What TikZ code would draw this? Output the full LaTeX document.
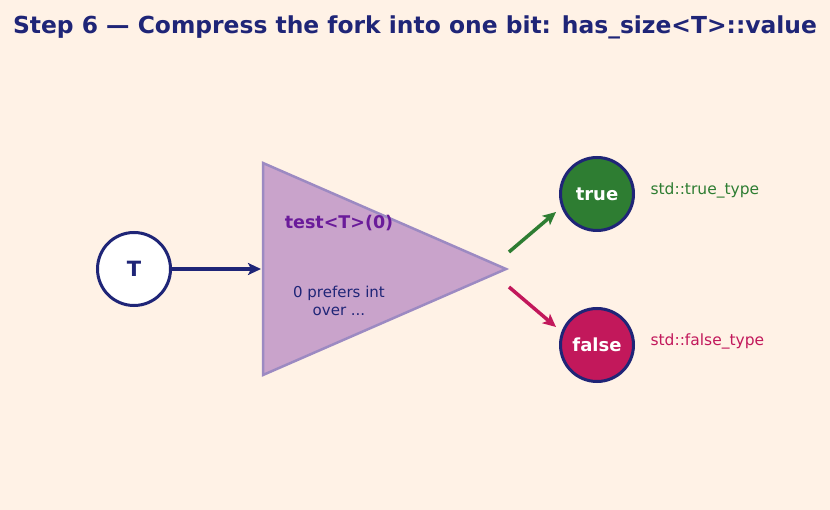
\documentclass[tikz,border=0pt]{standalone}
\usepackage{fontspec}
\setmainfont{DejaVu Sans}
\usetikzlibrary{arrows.meta}
\definecolor{bg}{HTML}{FFF2E6}
\definecolor{navy}{HTML}{1F2577}
\definecolor{tri}{HTML}{C9A3CB}
\definecolor{triedge}{HTML}{9C8AC2}
\definecolor{grn}{HTML}{2E7D32}
\definecolor{rd}{HTML}{C2185B}
\definecolor{purp}{HTML}{6A1B9A}
\tikzset{
  circ/.style={circle, draw=navy, line width=3pt, minimum size=73pt, inner sep=0pt, font=\fontsize{18}{21}\selectfont\bfseries},
  arr/.style={line width=3.5pt, -{Stealth[length=13pt,width=12pt,inset=3pt]}},
  lbl/.style={anchor=west, font=\fontsize{15.5}{18}\selectfont}
}
\begin{document}
\begin{tikzpicture}[x=1pt,y=-1pt]
\fill[bg] (0,0) rectangle (830,510);
\useasboundingbox (0,0) rectangle (830,510);
\node[text=navy, font=\fontsize{23.4}{28}\selectfont\bfseries] (title) at (415,27) {Step 6 — Compress the fork into one bit: has\_size<T>::value};
\fill[tri, draw=triedge, line width=2.5pt, line join=miter] (263,163) -- (506,269) -- (263,375) -- cycle;
\node[circ, fill=white, text=navy, font=\fontsize{21}{25}\selectfont\bfseries] (T) at (134,269) {T};
\coordinate (triL) at (261,269);
\node[circ, fill=grn, text=white] (tr) at (597,194) {true};
\node[circ, fill=rd, text=white] (fa) at (597,345) {false};
\node[text=purp, font=\fontsize{17.5}{21}\selectfont\bfseries] (test) at (339,223) {test<T>(0)};
\node[text=navy, align=center, font=\fontsize{15}{17.5}\selectfont] (pref) at (339,301) {0 prefers int\\over ...};
\coordinate (g0) at (509,252);
\coordinate (g1) at (556,212);
\coordinate (r0) at (509,287);
\coordinate (r1) at (556,327);
\draw[arr, navy] (T.east) -- (triL);
\draw[arr, grn] (g0) -- (g1);
\draw[arr, rd] (r0) -- (r1);
\node[lbl, text=grn] (tl) at (647,190) {std::true\_type};
\node[lbl, text=rd] (fl) at (647,341) {std::false\_type};
\end{tikzpicture}
\end{document}
